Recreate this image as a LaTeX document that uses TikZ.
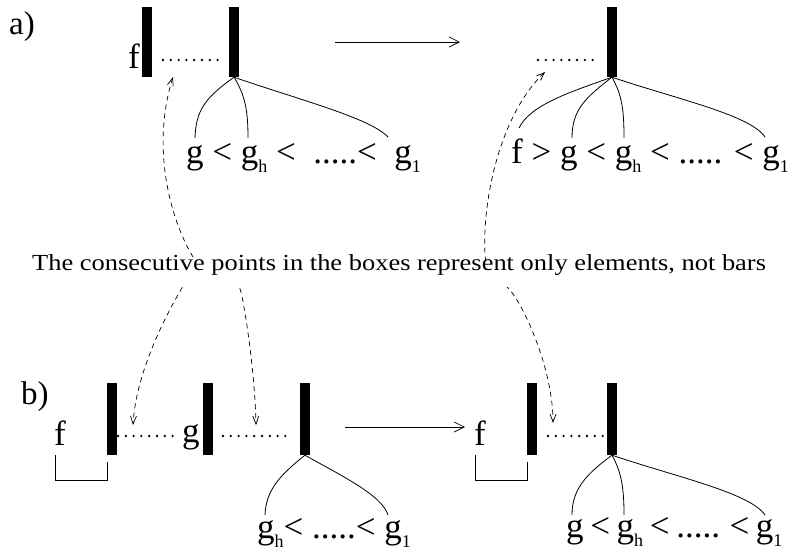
\documentclass[tikz,border=0pt]{standalone}
\usepackage{fontspec}
\setmainfont{Liberation Serif}
\usepackage{graphicx}
\usetikzlibrary{arrows.meta}

\newcommand{\lowidx}[1]{\raisebox{-9pt}{\fontsize{18}{18}\selectfont #1}}

\tikzset{
  bar/.style={fill=black, inner sep=0pt, minimum width=9.5pt, minimum height=70pt},
  elems/.style={line width=2.6pt, line cap=round, dash pattern=on 0pt off 7.8pt},
  branch/.style={line width=0.8pt},
  move/.style={line width=0.7pt, ->, >={Straight Barb[length=10pt,width=10pt]}},
  hint/.style={line width=0.7pt, dash pattern=on 5pt off 4pt, >={Straight Barb[length=8pt,width=6pt]}},
  elemlbl/.style={inner sep=0pt, anchor=base west, font=\fontsize{35}{38}\selectfont},
  partlbl/.style={inner sep=0pt, anchor=base west, font=\fontsize{33}{36}\selectfont},
  remark/.style={inner sep=0pt, anchor=base west, fill=white, text height=10pt, text depth=17pt,
    font=\fontsize{23}{27}\selectfont},
}

\begin{document}
\begin{tikzpicture}[x=1pt,y=-1pt]
  \useasboundingbox (0,0) rectangle (790,558);

  % 标号
  \node[partlbl] (pa) at (9,34) {a)};
  \node[partlbl] (pb) at (21,404) {b)};

  % a) 左边
  \node[bar] (a1) at (147,42) {};
  \node[bar] (a2) at (234,42) {};
  \node[elemlbl, anchor=base east] (fa) at (140,68) {f};
  \draw[elems] (163,60) -- (225,60);
  \node[elemlbl] (la) at (186,163) {g < g\lowidx{h} <~ .....<~ g\lowidx{1}};
  \coordinate (ag) at (195,138);
  \coordinate (agh) at (248,138);
  \coordinate (ag1) at (388,137);
  \draw[branch] (a2.south) .. controls (205,98) and (196,110) .. (ag);
  \draw[branch] (a2.south) .. controls (245,95) and (248,110) .. (agh);
  \draw[branch] (a2.south) .. controls (300,100) and (370,118) .. (ag1);

  % a) 箭头
  \coordinate (m1) at (335,42);
  \coordinate (m2) at (460,42);
  \draw[move] (m1) -- (m2);

  % a) 右边
  \node[bar] (a3) at (612,42) {};
  \draw[elems] (538,60) -- (600,60);
  \node[elemlbl] (lb) at (511,163) {f > g < g\lowidx{h} < ..... < g\lowidx{1}};
  \coordinate (bf) at (519,128);
  \coordinate (bg) at (572,138);
  \coordinate (bgh) at (624,138);
  \coordinate (bg1) at (765,137);
  \draw[branch] (a3.south) .. controls (570,92) and (530,105) .. (bf);
  \draw[branch] (a3.south) .. controls (585,98) and (572,110) .. (bg);
  \draw[branch] (a3.south) .. controls (622,95) and (624,110) .. (bgh);
  \draw[branch] (a3.south) .. controls (680,100) and (750,115) .. (bg1);

  % 虚线箭头
  \coordinate (h1) at (173,77);
  \coordinate (h2) at (256,425);
  \coordinate (hb) at (192,272);
  \coordinate (h3) at (133,425);
  \coordinate (h4) at (545,72);
  \coordinate (h5) at (553,423);
  \draw[hint, <->] (h1) .. controls (150,150) and (172,225) .. (195,260)
    .. controls (208,280) and (236,270) .. (241,292)
    .. controls (246,314) and (255,375) .. (h2);
  \draw[hint, ->] (hb) .. controls (170,305) and (136,370) .. (h3);
  \draw[hint, <->] (h4) .. controls (500,115) and (482,200) .. (485,255)
    .. controls (486,273) and (500,278) .. (510,290)
    .. controls (525,308) and (553,370) .. (h5);

  % 说明文字
  \node[remark] (nt) at (32,270)
    {\scalebox{1.15}[1]{The consecutive points in the boxes represent only elements, not bars}};

  % b) 左边
  \node[bar, minimum height=72pt] (b1) at (112,419) {};
  \node[bar, minimum height=72pt] (b2) at (208,419) {};
  \node[bar, minimum height=72pt] (b3) at (305,419) {};
  \node[elemlbl] (fb) at (54,445) {f};
  \draw[branch] (55,455) -- (55,480) -- (107,480) -- (107,462);
  \draw[elems] (118,436) -- (180,436);
  \node[elemlbl] (gb) at (182,442) {g};
  \draw[elems] (223,436) -- (287,436);
  \node[elemlbl] (lc) at (257,538) {g\lowidx{h}< .....< g\lowidx{1}};
  \coordinate (cgh) at (265,515);
  \coordinate (cg1) at (388,515);
  \draw[branch] (b3.south) .. controls (280,475) and (266,490) .. (cgh);
  \draw[branch] (b3.south) .. controls (340,475) and (382,495) .. (cg1);

  % b) 箭头
  \coordinate (m3) at (345,427);
  \coordinate (m4) at (465,427);
  \draw[move] (m3) -- (m4);

  % b) 右边
  \node[bar, minimum height=72pt] (b4) at (532,419) {};
  \node[bar, minimum height=72pt] (b5) at (612,419) {};
  \node[elemlbl] (fc) at (474,445) {f};
  \draw[branch] (475,455) -- (475,480) -- (527,480) -- (527,462);
  \draw[elems] (548,436) -- (605,436);
  \node[elemlbl] (ld) at (566,537) {\spaceskip=0.19em g < g\lowidx{h} < ..... < g\lowidx{1}};
  \coordinate (dg) at (572,515);
  \coordinate (dgh) at (624,515);
  \coordinate (dg1) at (765,515);
  \draw[branch] (b5.south) .. controls (585,475) and (572,490) .. (dg);
  \draw[branch] (b5.south) .. controls (622,473) and (624,490) .. (dgh);
  \draw[branch] (b5.south) .. controls (680,478) and (750,493) .. (dg1);

\end{tikzpicture}
\end{document}
